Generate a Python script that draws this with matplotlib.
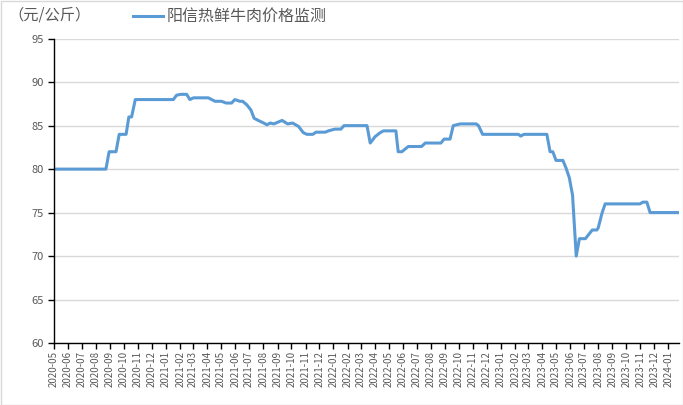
import matplotlib
matplotlib.use("Agg")
import matplotlib.pyplot as plt
import matplotlib.dates as mdates
import pandas as pd
from matplotlib.patches import Rectangle
from matplotlib.lines import Line2D

plt.rcParams['font.family'] = ['Noto Sans CJK SC', 'DejaVu Sans']

dates = [
    "2020-05-01", "2020-08-23", "2020-08-30", "2020-09-14", "2020-09-21", "2020-10-06",
    "2020-10-12", "2020-10-18", "2020-10-26", "2021-01-17", "2021-01-24", "2021-02-02",
    "2021-02-15", "2021-02-22", "2021-03-02", "2021-04-03", "2021-04-18", "2021-05-02",
    "2021-05-12", "2021-05-24", "2021-05-31", "2021-06-11", "2021-06-17", "2021-06-26",
    "2021-07-05", "2021-07-12", "2021-07-21", "2021-07-31", "2021-08-09", "2021-08-16",
    "2021-08-24", "2021-09-11", "2021-09-23", "2021-10-04", "2021-10-17", "2021-10-27",
    "2021-11-04", "2021-11-17", "2021-11-24", "2021-12-14", "2021-12-21", "2022-01-04",
    "2022-01-17", "2022-01-24", "2022-03-15", "2022-03-22", "2022-04-02", "2022-04-13",
    "2022-04-20", "2022-05-17", "2022-05-22", "2022-05-30", "2022-06-06", "2022-06-13",
    "2022-07-12", "2022-07-20", "2022-08-23", "2022-08-30", "2022-09-12", "2022-09-19",
    "2022-10-04", "2022-11-08", "2022-11-13", "2022-11-22", "2023-02-08", "2023-02-13",
    "2023-02-20", "2023-04-11", "2023-04-18", "2023-04-24", "2023-05-01", "2023-05-16",
    "2023-05-23", "2023-05-30", "2023-06-06", "2023-06-14", "2023-06-21", "2023-07-04",
    "2023-07-13", "2023-07-19", "2023-07-29", "2023-08-01", "2023-08-09", "2023-08-16",
    "2023-10-31", "2023-11-06", "2023-11-15", "2023-11-22", "2024-01-23",
]
prices = [
    80.0, 80.0, 82.0, 82.0, 84.0, 84.0,
    86.0, 86.0, 88.0, 88.0, 88.5, 88.6,
    88.6, 88.0, 88.2, 88.2, 87.8, 87.8,
    87.6, 87.6, 88.0, 87.8, 87.8, 87.4,
    86.8, 85.85, 85.6, 85.35, 85.1, 85.3,
    85.2, 85.6, 85.2, 85.3, 84.9, 84.2,
    84.0, 84.0, 84.25, 84.25, 84.4, 84.6,
    84.6, 85.0, 85.0, 83.0, 83.75, 84.2,
    84.4, 84.4, 82.0, 82.0, 82.3, 82.6,
    82.6, 83.0, 83.0, 83.45, 83.45, 85.0,
    85.2, 85.2, 85.0, 84.0, 84.0, 83.8,
    84.0, 84.0, 82.0, 82.0, 81.0, 81.0,
    80.1, 79.0, 77.0, 70.0, 72.0, 72.0,
    72.6, 73.0, 73.0, 73.25, 74.9, 76.0,
    76.0, 76.2, 76.2, 75.0, 75.0,
]
month_ticks = pd.date_range("2020-05-01", "2024-01-01", freq="MS")
tick_labels = [d.strftime("%Y-%m") for d in month_ticks]
y_ticks = [60, 65, 70, 75, 80, 85, 90, 95]
series_name = "阳信热鲜牛肉价格监测"
unit_label = "（元/公斤）"

W, H = 683, 405
fig = plt.figure(figsize=(W / 100, H / 100), dpi=100)
ax = fig.add_axes([53.6 / W, 1 - 343 / H, (679 - 53.6) / W, (343 - 38.7) / H])

x = pd.to_datetime(dates)
line_color = "#5B9BD5"
ax.plot(x, prices, color=line_color, lw=2.2, solid_joinstyle="round")

ax.set_ylim(60, 95)
ax.set_yticks(y_ticks)
ax.set_xlim(pd.Timestamp("2020-05-01"), pd.Timestamp("2024-01-24"))
ax.set_xticks(month_ticks)
ax.set_xticklabels(tick_labels, rotation=90)
ax.grid(axis="y", color="#d9d9d9", lw=1.0)
ax.set_axisbelow(True)
for s in ["top", "right"]:
    ax.spines[s].set_visible(False)
for s in ["left", "bottom"]:
    ax.spines[s].set_color("black")
    ax.spines[s].set_linewidth(1.0)
ax.tick_params(axis="both", direction="out", length=4, width=1, color="black",
               labelcolor="#595959")
ax.tick_params(axis="y", labelsize=8, pad=3)
ax.tick_params(axis="x", labelsize=7, pad=2)

fig.text(8 / W, 1 - 15 / H, unit_label, fontsize=11, color="#595959", va="center", ha="left")
fig.add_artist(Line2D([133 / W, 163 / W], [1 - 16 / H, 1 - 16 / H], color=line_color, lw=2.2,
                      transform=fig.transFigure))
fig.text(167 / W, 1 - 16 / H, series_name, fontsize=11.5, color="#595959", va="center", ha="left")

fig.add_artist(Rectangle((0.5 / W, 0.5 / H), 1 - 1 / W, 1 - 1 / H, transform=fig.transFigure,
                         fill=False, edgecolor="#d9d9d9", lw=1.0))

fig.savefig("out.png", dpi=100)
